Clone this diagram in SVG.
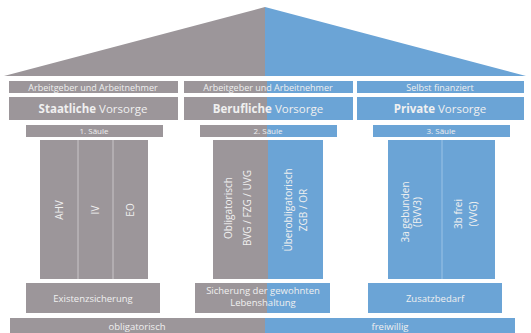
<svg xmlns="http://www.w3.org/2000/svg" width="531" height="333" viewBox="0 0 531 333">
<style>
.g{fill:#9c969a}
.b{fill:#6ba4d6}
text{font-family:"Open Sans","Liberation Sans",sans-serif;fill:#f0f0f0;text-anchor:middle}
.s{font-size:9px}
.m{font-size:11.5px}
.t{font-size:8px}
.p{font-size:10px}
.f{font-size:9.5px}
.div{stroke:#c9c5c8;stroke-width:1}
.divb{stroke:#9cc3e6;stroke-width:1}
</style>
<rect width="531" height="333" fill="#ffffff"/>
<g id="roof">
<polygon class="g" points="4,76 265,7 265,76"/>
<polygon class="b" points="265,7 526,76 265,76"/>
</g>
<g id="header1">
<rect class="g" x="9" y="81" width="169" height="12"/>
<text class="s" x="93" y="90.5">Arbeitgeber und Arbeitnehmer</text>
<rect class="g" x="9" y="97" width="169" height="23"/>
<text class="m" x="93" y="112.5"><tspan font-weight="bold">Staatliche</tspan> Vorsorge</text>
<rect class="g" x="26" y="125" width="137" height="12"/>
<text class="t" x="94" y="134">1. Säule</text>
</g>
<g id="header2">
<rect class="g" x="184" y="81" width="83" height="12"/>
<rect class="b" x="267" y="81" width="86" height="12"/>
<text class="s" x="268" y="90.5">Arbeitgeber und Arbeitnehmer</text>
<rect class="g" x="184" y="97" width="83" height="23"/>
<rect class="b" x="267" y="97" width="86" height="23"/>
<text class="m" x="268" y="112.5"><tspan font-weight="bold">Berufliche</tspan> Vorsorge</text>
<rect class="g" x="200" y="125" width="67" height="12"/>
<rect class="b" x="267" y="125" width="70" height="12"/>
<text class="t" x="268" y="134">2. Säule</text>
</g>
<g id="header3">
<rect class="b" x="357" y="81" width="167" height="12"/>
<text class="s" x="440" y="90.5">Selbst finanziert</text>
<rect class="b" x="357" y="97" width="167" height="23"/>
<text class="m" x="440" y="112.5"><tspan font-weight="bold">Private</tspan> Vorsorge</text>
<rect class="b" x="373" y="125" width="137" height="12"/>
<text class="t" x="441" y="134">3. Säule</text>
</g>
<g id="pillar1">
<rect class="g" x="40" y="140" width="108" height="139"/>
<line class="div" x1="78" y1="140" x2="78" y2="279"/>
<line class="div" x1="113" y1="140" x2="113" y2="279"/>
<text class="p" transform="translate(62.5,210) rotate(-90)">AHV</text>
<text class="p" transform="translate(98.5,210) rotate(-90)">IV</text>
<text class="p" transform="translate(134,210) rotate(-90)">EO</text>
</g>
<g id="pillar2">
<rect class="g" x="213" y="140" width="55" height="139"/>
<rect class="b" x="268" y="140" width="55" height="139"/>
<text class="p" transform="translate(231.5,208) rotate(-90)">Obligatorisch</text>
<text class="p" transform="translate(250.5,208) rotate(-90)">BVG / FZG / UVG</text>
<text class="p" transform="translate(291.5,210) rotate(-90)">Überobligatorisch</text>
<text class="p" transform="translate(306.5,210) rotate(-90)">ZGB / OR</text>
</g>
<g id="pillar3">
<rect class="b" x="388" y="140" width="107" height="139"/>
<line class="divb" x1="442" y1="140" x2="442" y2="279"/>
<text class="p" transform="translate(408.5,212) rotate(-90)">3a gebunden</text>
<text class="p" transform="translate(421,212) rotate(-90)">(BVV3)</text>
<text class="p" transform="translate(461.5,214) rotate(-90)">3b frei</text>
<text class="p" transform="translate(476.5,214) rotate(-90)">(VVG)</text>
</g>
<g id="base1">
<rect class="g" x="26" y="283" width="134" height="30"/>
<text class="f" x="93" y="301.5">Existenzsicherung</text>
</g>
<g id="base2">
<rect class="g" x="195" y="283" width="72" height="30"/>
<rect class="b" x="267" y="283" width="63" height="30"/>
<text class="f" x="263" y="294">Sicherung der gewohnten</text>
<text class="f" x="263" y="306">Lebenshaltung</text>
</g>
<g id="base3">
<rect class="b" x="368" y="283" width="134" height="30"/>
<text class="f" x="435" y="301.5">Zusatzbedarf</text>
</g>
<g id="foundation">
<rect class="g" x="10" y="318" width="255" height="15"/>
<rect class="b" x="265" y="318" width="250" height="15"/>
<text class="f" x="137" y="329.5">obligatorisch</text>
<text class="f" x="390" y="329.5">freiwillig</text>
</g>
<g id="connectors"/>
</svg>
